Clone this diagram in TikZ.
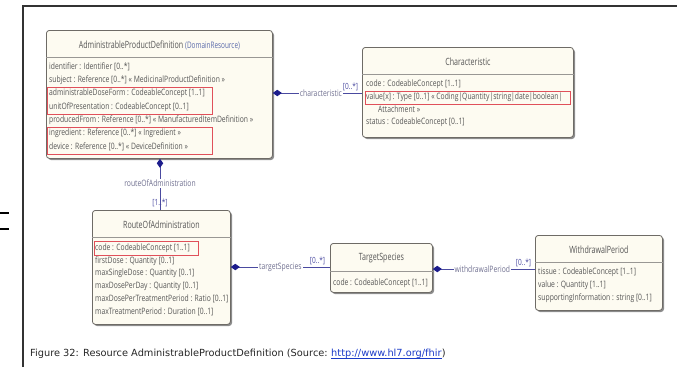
\documentclass[tikz,border=0pt]{standalone}
\usepackage{fontspec}
\setmainfont{DejaVu Sans}
\newfontfamily\umlfont[FakeStretch=0.77]{Open Sans}
\newfontfamily\umltitlefont[FakeStretch=0.71]{Open Sans}
\usetikzlibrary{arrows.meta,shadows}

\definecolor{boxfill}{HTML}{FDFBF1}
\definecolor{boxline}{HTML}{6E6B66}
\definecolor{rowtext}{HTML}{555555}
\definecolor{navy}{HTML}{1C1C8C}
\definecolor{assoc}{HTML}{4A4AA0}
\definecolor{rolegray}{HTML}{707090}
\definecolor{hilite}{HTML}{E0505A}
\definecolor{stereo}{HTML}{5A6AAA}
\definecolor{linkblue}{HTML}{1A3AC8}

\tikzset{
  classbox/.style={draw=boxline, line width=0.8pt, fill=boxfill, rounded corners=3pt,
    anchor=north west, inner sep=0pt,
    drop shadow={shadow xshift=1.6pt, shadow yshift=-1.6pt, fill=black!60, opacity=0.75}},
  classtitle/.style={font=\umltitlefont\fontsize{10}{12}\selectfont, text=rowtext, inner sep=0pt},
  row/.style={font=\umlfont\fontsize{8.8}{10}\selectfont, text=rowtext, anchor=west, inner sep=0pt},
  sepline/.style={draw=boxline!70, line width=0.6pt},
  hilite/.style={draw=hilite, line width=0.8pt},
  assocline/.style={draw=assoc, line width=0.9pt,
    {Diamond[length=9pt,width=6.5pt,fill=navy,color=navy]}-},
  rolelabel/.style={font=\umlfont\fontsize{8.8}{10}\selectfont, text=rolegray, fill=white, inner sep=1pt},
  mult/.style={font=\umlfont\fontsize{8.5}{10}\selectfont, text=assoc, inner sep=0.5pt},
  frameline/.style={draw=black!80, line width=1.3pt},
  captiontext/.style={anchor=base west, font=\fontsize{9.8}{12}\selectfont, text=black!85, inner sep=0pt},
}

\begin{document}
\begin{tikzpicture}[x=1pt,y=-1pt]
\useasboundingbox (0,0) rectangle (677,367);

% page frame and margin marks
\draw[frameline] (23,367) -- (23,6) -- (677,6);
\draw[line width=2.5pt] (0,213) -- (9,213) (0,229) -- (9,229);

% ---------- AdministrableProductDefinition ----------
\node[classbox, minimum width=226pt, minimum height=128pt] (apd) at (46,30) {};
\node[classtitle] (apdtitle) at ([yshift=-15pt]apd.north)
  {AdministrableProductDefinition {\color{stereo}\fontsize{9}{10}\selectfont(DomainResource)}};
\draw[sepline] ([yshift=-27pt]apd.north west) -- ([yshift=-27pt]apd.north east);
\node[row] (apd1) at ([xshift=3pt,yshift=-37pt]apd.north west) {identifier : Identifier [0..*]};
\node[row] (apd2) at ([xshift=3pt,yshift=-50.3pt]apd.north west) {subject : Reference [0..*] « MedicinalProductDefinition »};
\node[row] (apd3) at ([xshift=3pt,yshift=-63.6pt]apd.north west) {administrableDoseForm : CodeableConcept [1..1]};
\node[row] (apd4) at ([xshift=3pt,yshift=-77pt]apd.north west) {unitOfPresentation : CodeableConcept [0..1]};
\node[row] (apd5) at ([xshift=3pt,yshift=-90.3pt]apd.north west) {producedFrom : Reference [0..*] « ManufacturedItemDefinition »};
\node[row] (apd6) at ([xshift=3pt,yshift=-103.6pt]apd.north west) {ingredient : Reference [0..*] « Ingredient »};
\node[row] (apd7) at ([xshift=3pt,yshift=-117pt]apd.north west) {device : Reference [0..*] « DeviceDefinition »};
\draw[hilite] (47,87) rectangle (212,114);
\draw[hilite] (47,127) rectangle (212,154);

% ---------- Characteristic ----------
\node[classbox, minimum width=211pt, minimum height=90pt] (char) at (362,47) {};
\node[classtitle] (chartitle) at ([yshift=-15pt]char.north) {Characteristic};
\draw[sepline] ([yshift=-27pt]char.north west) -- ([yshift=-27pt]char.north east);
\node[row] (char1) at ([xshift=4pt,yshift=-37pt]char.north west) {code : CodeableConcept [1..1]};
\node[row] (char2) at ([xshift=4pt,yshift=-50pt]char.north west) {value[x] : Type [0..1] « Coding|Quantity|string|date|boolean|};
\node[row] (char3) at ([xshift=16pt,yshift=-62.5pt]char.north west) {Attachment »};
\node[row] (char4) at ([xshift=4pt,yshift=-75pt]char.north west) {status : CodeableConcept [0..1]};
\draw[hilite] (365,91) rectangle (570,104);

% ---------- RouteOfAdministration ----------
\node[classbox, minimum width=138pt, minimum height=114pt] (route) at (92,210) {};
\node[classtitle] (routetitle) at ([yshift=-15pt]route.north) {RouteOfAdministration};
\draw[sepline] ([yshift=-27pt]route.north west) -- ([yshift=-27pt]route.north east);
\node[row] (route1) at ([xshift=3pt,yshift=-38pt]route.north west) {code : CodeableConcept [1..1]};
\node[row] (route2) at ([xshift=3pt,yshift=-50.8pt]route.north west) {firstDose : Quantity [0..1]};
\node[row] (route3) at ([xshift=3pt,yshift=-63.6pt]route.north west) {maxSingleDose : Quantity [0..1]};
\node[row] (route4) at ([xshift=3pt,yshift=-76.4pt]route.north west) {maxDosePerDay : Quantity [0..1]};
\node[row] (route5) at ([xshift=3pt,yshift=-89.2pt]route.north west) {maxDosePerTreatmentPeriod : Ratio [0..1]};
\node[row] (route6) at ([xshift=3pt,yshift=-102pt]route.north west) {maxTreatmentPeriod : Duration [0..1]};
\draw[hilite] (94,241) rectangle (198,255);

% ---------- TargetSpecies ----------
\node[classbox, minimum width=102pt, minimum height=49pt] (target) at (330,243) {};
\node[classtitle] (targettitle) at ([yshift=-15pt]target.north) {TargetSpecies};
\draw[sepline] ([yshift=-28pt]target.north west) -- ([yshift=-28pt]target.north east);
\node[row] (target1) at ([xshift=3pt,yshift=-40pt]target.north west) {code : CodeableConcept [1..1]};

% ---------- WithdrawalPeriod ----------
\node[classbox, minimum width=127pt, minimum height=75pt] (wp) at (535,235) {};
\node[classtitle] (wptitle) at ([yshift=-15pt]wp.north) {WithdrawalPeriod};
\draw[sepline] ([yshift=-27pt]wp.north west) -- ([yshift=-27pt]wp.north east);
\node[row] (wp1) at ([xshift=3pt,yshift=-37pt]wp.north west) {tissue : CodeableConcept [1..1]};
\node[row] (wp2) at ([xshift=3pt,yshift=-50pt]wp.north west) {value : Quantity [1..1]};
\node[row] (wp3) at ([xshift=3pt,yshift=-63pt]wp.north west) {supportingInformation : string [0..1]};

% ---------- associations ----------
\draw[assocline] (apd.east |- 0,93) -- (char.west |- 0,93)
  node[rolelabel, pos=0.54] {characteristic}
  node[mult, anchor=south east, pos=1, xshift=-3pt, yshift=1pt] {[0..*]};
\draw[assocline] (apd.south -| 160,0) -- (route.north -| 160,0)
  node[rolelabel, pos=0.48] {routeOfAdministration}
  node[mult, pos=0.865] {[1..*]};
\draw[assocline] (route.east |- 0,267) -- (target.west |- 0,267)
  node[rolelabel, pos=0.5] {targetSpecies}
  node[mult, anchor=south east, pos=1, xshift=-4pt, yshift=1pt] {[0..*]};
\draw[assocline] (target.east |- 0,269) -- (wp.west |- 0,269)
  node[rolelabel, pos=0.485] {withdrawalPeriod}
  node[mult, anchor=south east, pos=1, xshift=-3pt, yshift=1pt] {[0..*]};

% ---------- caption ----------
\node[captiontext] (caption) at (30,356)
  {Figure 32: Resource AdministrableProductDefinition (Source:\kern0.32em};
\node[captiontext, text=linkblue] (url) at (caption.base east) {http://www.hl7.org/fhir};
\node[captiontext] (capend) at (url.base east) {)};
\draw[linkblue, line width=0.6pt] ([yshift=-1.8pt]url.base west) -- ([yshift=-1.8pt]url.base east);
\end{tikzpicture}
\end{document}
